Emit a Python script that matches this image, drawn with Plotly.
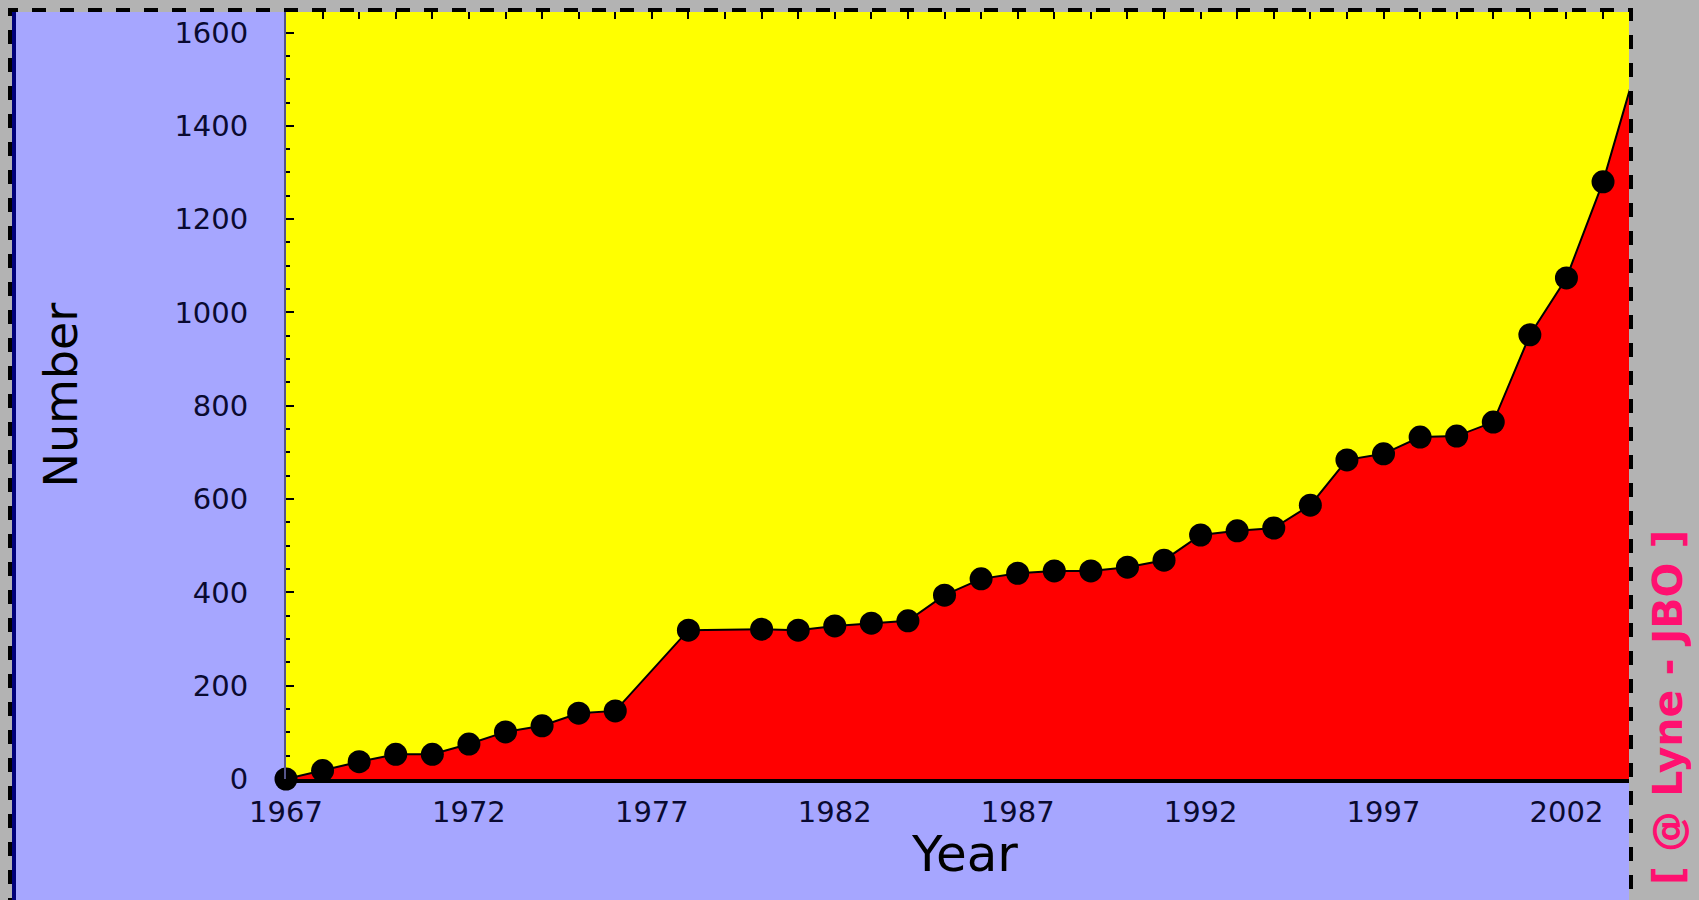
import plotly.graph_objects as go

# ---- data ----
years = [1967, 1968, 1969, 1970, 1971, 1972, 1973, 1974, 1975, 1976,
         1978, 1980, 1981, 1982, 1983, 1984, 1985, 1986, 1987, 1988,
         1989, 1990, 1991, 1992, 1993, 1994, 1995, 1996, 1997, 1998,
         1999, 2000, 2001, 2002, 2003, 2004]
numbers = [0, 18, 37, 53, 53, 75, 101, 114, 141, 146,
           319, 321, 319, 328, 334, 339, 394, 429, 441, 446,
           446, 454, 469, 523, 532, 538, 587, 684, 697, 733,
           735, 765, 952, 1074, 1280, 1550]
x_tick_vals = [1967, 1972, 1977, 1982, 1987, 1992, 1997, 2002]
y_tick_vals = [0, 200, 400, 600, 800, 1000, 1200, 1400, 1600]

# ---- geometry (pixels) ----
W, H = 1699, 900
L, R, T, B = 286, 1629, 12, 779


def px(x):
    return (x - L) / (R - L)


def py(y):
    return (B - y) / (B - T)


fig = go.Figure()

fig.add_trace(go.Scatter(
    x=years, y=numbers, mode="lines", fill="tozeroy",
    fillcolor="#ff0000", line=dict(color="#000000", width=2),
    hoverinfo="skip", showlegend=False))

fig.add_trace(go.Scatter(
    x=years[:-1], y=numbers[:-1], mode="markers",
    marker=dict(color="#000000", size=23, line=dict(width=0)),
    cliponaxis=False, showlegend=False))

# invisible trace to host the top (mirrored) tick axis
fig.add_trace(go.Scatter(
    x=years[:1], y=numbers[:1], xaxis="x2", mode="markers",
    marker=dict(opacity=0), hoverinfo="skip", showlegend=False))

tick_font = dict(family="DejaVu Sans", size=29, color="#0a0a30")

fig.update_layout(
    width=W, height=H,
    margin=dict(l=L, r=W - R, t=T, b=H - B, pad=0),
    paper_bgcolor="#b3b3b3",
    plot_bgcolor="rgba(0,0,0,0)",
    showlegend=False,
    xaxis=dict(
        range=[1967, 2003.71], tickmode="array", tickvals=x_tick_vals,
        ticktext=[str(v) for v in x_tick_vals],
        showgrid=False, zeroline=False,
        showline=True, linecolor="#000000", linewidth=4,
        ticks="", tickfont=tick_font, ticklabelstandoff=4,
        automargin=False,
    ),
    xaxis2=dict(
        overlaying="x", matches="x", side="top",
        range=[1967, 2003.71], tickmode="linear", tick0=1967, dtick=1,
        ticks="inside", ticklen=7, tickwidth=2, tickcolor="#000000",
        showticklabels=False, showgrid=False, zeroline=False,
        showline=False, automargin=False,
    ),
    yaxis=dict(
        range=[0, 1644], tickmode="array", tickvals=y_tick_vals,
        ticktext=[str(v) for v in y_tick_vals],
        showgrid=False, zeroline=False,
        showline=True, linecolor="#55558a", linewidth=2,
        ticks="inside", ticklen=8, tickwidth=2, tickcolor="#000000",
        minor=dict(ticks="inside", dtick=50, ticklen=4, tickwidth=2,
                   tickcolor="#000000", showgrid=False),
        tickfont=tick_font, ticklabelstandoff=30,
        automargin=False,
    ),
    shapes=[
        # lavender panel
        dict(type="rect", xref="paper", yref="paper",
             x0=px(16), x1=px(R), y0=py(910), y1=py(T),
             fillcolor="#a6a6ff", line=dict(width=0), layer="below"),
        # yellow plot area
        dict(type="rect", xref="paper", yref="paper",
             x0=0, x1=1, y0=0, y1=1,
             fillcolor="#ffff00", line=dict(width=0), layer="below"),
        # navy left edge line
        dict(type="line", xref="paper", yref="paper",
             x0=px(14), x1=px(14), y0=py(910), y1=py(T),
             line=dict(color="#00007a", width=4), layer="above"),
        # dashed outer border
        dict(type="rect", xref="paper", yref="paper",
             x0=px(10), x1=px(1631), y0=py(920), y1=py(10),
             line=dict(color="#000000", width=4, dash="14px,14px"),
             fillcolor="rgba(0,0,0,0)", layer="above"),
    ],
    annotations=[
        dict(text="Number", xref="paper", yref="paper",
             x=px(60), y=0.5, xanchor="center", yanchor="middle",
             textangle=-90, showarrow=False,
             font=dict(family="DejaVu Sans", size=46, color="#000000")),
        dict(text="Year", xref="paper", yref="paper",
             x=px(964), y=py(854), xanchor="center", yanchor="middle",
             showarrow=False,
             font=dict(family="DejaVu Sans", size=50, color="#000000")),
        dict(text="[ @ Lyne - JBO ]", xref="paper", yref="paper",
             x=px(1668), y=py(708), xanchor="center", yanchor="middle",
             textangle=-90, showarrow=False,
             font=dict(family="DejaVu Sans", size=41, color="#ff1070",
                       weight="bold")),
    ],
)

fig.write_html("out.html",
               config={"displayModeBar": False},
               post_script="document.body.style.margin='0';"
                           "document.body.style.padding='0';")
